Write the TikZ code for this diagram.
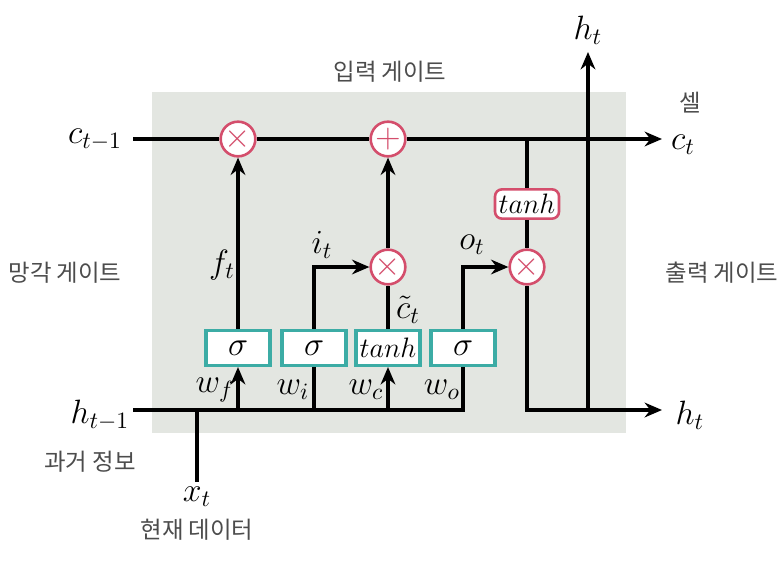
\documentclass[tikz,border=0pt]{standalone}
\usepackage{fontspec}
\newfontfamily\kr{Noto Sans CJK KR}
\usetikzlibrary{arrows.meta}
\definecolor{figBg}{RGB}{227,230,225}
\definecolor{figT}{RGB}{60,172,165}
\definecolor{figR}{RGB}{212,78,108}

\begin{document}
\begin{tikzpicture}[x=0.015cm,y=-0.015cm,>={Stealth[length=2.6mm,width=2.2mm]},line width=1.3pt,
  op/.style={circle,draw=figR,fill=white,line width=1.1pt,minimum size=0.52cm,inner sep=0pt,text=figR,font=\Large},
  gate/.style={draw=figT,fill=white,line width=1.5pt,minimum width=0.96cm,minimum height=0.52cm,inner sep=0pt,font=\Large},
  act/.style={draw=figR,fill=white,rounded corners=3pt,line width=1.1pt,minimum width=0.96cm,minimum height=0.44cm,inner sep=0pt,font=\large},
  lbl/.style={font=\Large},
  kor/.style={font=\kr\normalsize,text=black!70}]
\useasboundingbox (0,0) rectangle (779,562);
\fill[figBg] (152,92) rectangle (626,433);
% operations and gates
\node[op] (fx) at (238,139) {$\times$};
\node[op] (ax) at (388,139) {$+$};
\node[op] (ix) at (388,267) {$\times$};
\node[op] (ox) at (527,267) {$\times$};
\node[gate] (sf) at (238,348) {$\sigma$};
\node[gate] (si) at (314,348) {$\sigma$};
\node[gate,font=\large] (tc) at (388,348) {$tanh$};
\node[gate] (so) at (463,348) {$\sigma$};
\node[act] (th) at (527,204) {$tanh$};
% line ends
\coordinate (cin) at (133,139);
\coordinate (cout) at (662,139);
\coordinate (cj) at (527,139);
\coordinate (hin) at (133,410);
\coordinate (hj) at (588,410);
\coordinate (hout) at (662,410);
\coordinate (hup) at (588,52);
\coordinate (xj) at (197,410);
\coordinate (xin) at (197,482);
% cell state
\draw (cin) -- (fx) -- (ax);
\draw[->] (ax) -- (cout);
\draw (cj) -- (th) -- (ox);
% gates
\draw[->] (sf) -- (fx);
\draw[->] (si) |- (ix);
\draw (tc) -- (ix);
\draw[->] (ix) -- (ax);
\draw[->] (so) |- (ox);
\draw[->] (ox) |- (hout);
\draw[->] (hj) -- (hup);
% inputs
\draw (hin) -| (so);
\draw[->] (sf.south |- hin) -- (sf);
\draw (si.south |- hin) -- (si);
\draw[->] (tc.south |- hin) -- (tc);
\draw (xj) -- (xin);
% labels
\node[lbl] (lc0) at (95,140) {$c_{t-1}$};
\node[lbl] (lc1) at (683,145) {$c_t$};
\node[lbl] (lh0) at (100,415) {$h_{t-1}$};
\node[lbl] (lh1) at (690,415) {$h_t$};
\node[lbl] (lh2) at (588,30) {$h_t$};
\node[lbl] (lx) at (197,497) {$x_t$};
\node[lbl] (lf) at (222,265) {$f_t$};
\node[lbl] (li) at (322,245) {$i_t$};
\node[lbl] (lo) at (472,245) {$o_t$};
\node[lbl] (lcc) at (408,310) {$\tilde{c}_t$};
\node[lbl] (lwf) at (215,390) {$w_f$};
\node[lbl] (lwi) at (293,390) {$w_i$};
\node[lbl] (lwc) at (366,390) {$w_c$};
\node[lbl] (lwo) at (442,390) {$w_o$};
\node[kor] (kin) at (390,72) {입력 게이트};
\node[kor] (kfg) at (65,273) {망각 게이트};
\node[kor] (kout) at (722,273) {출력 게이트};
\node[kor] (kcell) at (690,103) {셀};
\node[kor] (kpast) at (90,462) {과거 정보};
\node[kor] (know) at (197,530) {현재 데이터};
\end{tikzpicture}
\end{document}
